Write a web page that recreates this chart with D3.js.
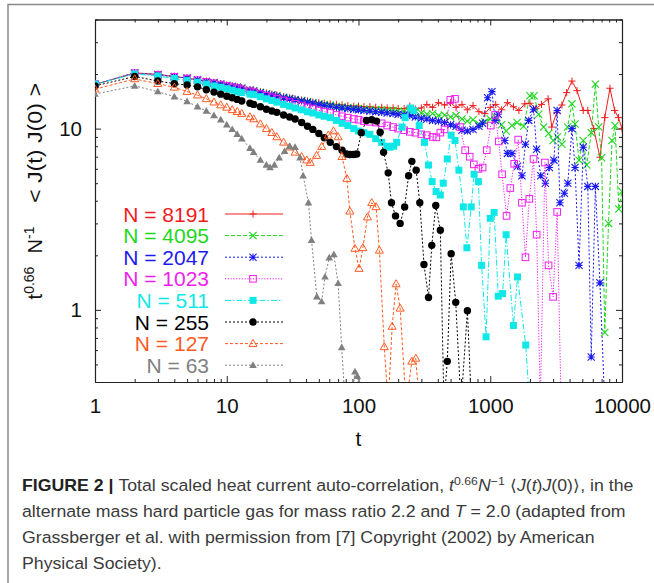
<!DOCTYPE html>
<html><head><meta charset="utf-8">
<script src="https://cdn.jsdelivr.net/npm/d3@7/dist/d3.min.js"></script>
<style>body{margin:0;background:#fff}svg{display:block}</style>
</head><body>
<svg id="c" width="654" height="583"></svg>
<script>
// ---------------- data ----------------
const seriesLabels = ["N = 8191","N = 4095","N = 2047","N = 1023","N = 511","N = 255","N = 127","N = 63"];
const xTickLabels = ["1","10","100","1000","10000"];
const yTickLabels = ["1","10"];

const s8191 = [[1,17.5],[2,20.3],[3,19.9],[4,19.4],[5,19.0],[6,18.6],[7,18.3],[8,18.0],[9,17.7],[10,17.4],[11,17.2],[12,17.0],[13,16.8],[15,16.4],[16,16.3],[18,16.0],[20,15.7],[22,15.5],[24,15.3],[27,15.0],[30,14.8],[33,14.6],[37,14.4],[41,14.2],[45,14.0],[50,13.9],[55,13.8],[61,13.7],[68,13.6],[75,13.5],[83,13.4],[92,13.3],[100,13.3],[110,13.2],[122,13.2],[135,13.1],[150,13.1],[165,13.0],[183,13.0],[200,12.9],[222,12.9],[245,13.3],[270,12.8],[300,13.0],[330,13.6],[365,13.1],[405,13.9],[450,13.5],[500,13.9],[550,13.1],[610,13.6],[670,12.7],[740,13.4],[820,12.4],[910,12.1],[1000,13.1],[1100,13.6],[1220,12.7],[1350,13.9],[1500,13.2],[1650,12.6],[1830,13.7],[2000,13.8],[2220,12.9],[2450,13.6],[2750,14.6],[2930,10.2],[3200,12.3],[3500,13.5],[3800,15.8],[4170,18.3],[4560,16.2],[5080,12.6],[5500,12.6],[6100,10.0],[6800,6.95],[7400,11.5],[8100,16.7],[8800,12.6],[9400,11.5],[10000,10.0]];
const s4095 = [[1,17.5],[2,20.2],[3,19.8],[4,19.3],[5,18.9],[6,18.5],[7,18.2],[8,17.9],[9,17.6],[10,17.3],[11,17.1],[12,16.9],[13,16.7],[15,16.3],[16,16.2],[18,15.9],[20,15.6],[22,15.4],[24,15.2],[27,14.9],[30,14.7],[33,14.5],[37,14.3],[41,14.1],[45,13.9],[50,13.7],[55,13.6],[61,13.5],[68,13.3],[75,13.2],[83,13.1],[92,13.0],[100,12.9],[110,12.8],[122,12.8],[135,12.7],[150,12.7],[165,12.6],[183,12.6],[200,12.5],[222,12.4],[245,12.5],[270,12.3],[300,12.2],[330,12.0],[365,12.1],[405,11.8],[450,11.9],[500,11.6],[550,11.8],[610,11.3],[670,11.0],[740,11.2],[820,10.6],[910,10.9],[1000,11.3],[1100,11.6],[1220,10.5],[1320,9.7],[1460,10.4],[1600,10.8],[1790,10.3],[2000,15.2],[2150,15.2],[2330,12.0],[2540,10.2],[2770,9.4],[3000,8.6],[3230,9.0],[3500,8.2],[3860,10.2],[4170,13.7],[4400,10.6],[4720,6.7],[5080,8.6],[5400,6.3],[5850,9.5],[6280,17.6],[6660,10.2],[7000,6.9],[7400,0.75],[7900,3.0],[8400,8.6],[8860,10.4],[9460,3.6],[10000,4.5]];
const s2047 = [[1,17.6],[2,20.3],[3,19.9],[4,19.4],[5,19.0],[6,18.6],[7,18.2],[8,17.9],[9,17.6],[10,17.3],[11,17.1],[12,16.9],[13,16.7],[15,16.3],[16,16.1],[18,15.8],[20,15.5],[22,15.3],[24,15.1],[27,14.8],[30,14.6],[33,14.4],[37,14.2],[41,14.0],[45,13.8],[50,13.6],[55,13.4],[61,13.3],[68,13.1],[75,13.0],[83,12.9],[92,12.8],[100,12.7],[110,12.6],[122,12.5],[135,12.4],[150,12.3],[165,12.2],[183,12.1],[200,12.0],[222,11.9],[245,11.8],[270,11.6],[300,11.4],[330,11.3],[365,11.1],[405,11.0],[450,10.8],[500,10.5],[550,10.3],[610,9.8],[670,9.7],[740,9.9],[820,10.3],[875,10.7],[955,14.8],[1030,16.0],[1090,11.1],[1150,12.0],[1290,8.6],[1350,7.3],[1460,7.3],[1610,6.2],[1740,5.5],[1850,8.2],[1960,11.1],[2130,12.8],[2250,7.7],[2420,5.5],[2620,5.0],[2810,6.1],[3040,6.7],[3220,12.6],[3380,3.9],[3650,4.4],[3880,5.0],[4170,10.0],[4400,6.1],[4720,1.76],[5080,7.9],[5500,4.8],[5840,0.55],[6280,4.8],[6800,1.41],[7400,0.3]];
const s1023 = [[1,17.6],[2,20.2],[3,19.8],[4,19.3],[5,18.9],[6,18.5],[7,18.1],[8,17.8],[9,17.5],[10,17.2],[11,16.9],[12,16.7],[13,16.5],[15,16.1],[16,15.9],[18,15.5],[20,15.2],[22,14.9],[24,14.6],[27,14.3],[30,14.0],[33,13.7],[37,13.4],[41,13.1],[45,12.9],[50,12.6],[55,12.4],[61,12.2],[68,11.9],[75,11.7],[83,11.5],[92,11.3],[100,11.2],[110,11.0],[122,10.9],[135,10.8],[150,10.7],[165,10.4],[183,10.2],[200,10.0],[222,9.8],[245,9.6],[270,9.5],[300,9.3],[330,9.2],[365,9.0],[390,8.95],[418,9.5],[450,9.9],[497,14.4],[540,14.6],[590,10.2],[645,7.6],[698,7.0],[750,6.35],[813,6.0],[875,6.1],[940,7.6],[1010,10.4],[1090,11.9],[1160,8.5],[1230,5.6],[1330,3.3],[1420,4.7],[1520,6.4],[1630,8.7],[1740,3.9],[1850,1.95],[1980,4.1],[2130,6.8],[2250,2.6],[2400,0.3],[2600,6.5],[2770,1.76],[3000,1.18],[3220,3.47],[3450,0.3]];
const s511 = [[1,17.6],[2,20.0],[3,19.5],[4,18.9],[5,18.4],[6,18.0],[7,17.6],[8,17.2],[9,16.9],[10,16.6],[11,16.3],[12,16.0],[13,15.8],[15,15.5],[16,15.4],[18,15.0],[20,14.6],[22,14.3],[24,14.0],[27,13.6],[30,13.3],[33,13.0],[37,12.7],[41,12.4],[45,12.2],[50,11.9],[55,11.7],[61,11.5],[68,11.1],[75,10.7],[83,10.4],[92,10.0],[100,9.7],[110,9.5],[122,9.3],[135,8.8],[150,8.4],[165,8.0],[173,7.9],[185,8.0],[195,8.4],[214,10.2],[226,11.5],[249,13.0],[262,12.6],[289,10.4],[317,8.4],[340,6.3],[362,5.1],[388,4.5],[418,4.3],[440,5.0],[472,6.8],[505,9.2],[540,8.6],[578,5.9],[625,3.7],[665,2.2],[717,3.7],[754,5.6],[813,5.1],[860,1.76],[930,0.71],[1000,3.2],[1070,3.45],[1150,1.19],[1240,1.23],[1320,2.6],[1500,0.82],[1610,1.52],[1860,0.64],[1990,0.3]];
const s255 = [[1,17.2],[2,19.4],[3,18.3],[4,17.7],[5,17.4],[6,17.0],[7,16.4],[8,15.9],[9,15.5],[10,15.1],[11,14.8],[12,14.5],[13,14.2],[15,13.8],[16,13.6],[18,13.2],[20,12.8],[22,12.5],[24,12.3],[27,11.9],[30,11.6],[33,11.3],[37,10.8],[41,10.3],[45,9.9],[50,9.4],[55,8.9],[61,8.4],[68,7.96],[75,7.6],[81,7.25],[86,7.2],[92,7.2],[97,7.25],[105,9.5],[115,11.1],[126,11.2],[137,11.0],[146,9.55],[155,7.4],[168,5.7],[178,3.9],[191,3.3],[207,3.0],[224,3.7],[240,5.5],[254,6.6],[274,5.9],[292,3.9],[314,1.78],[340,1.17],[360,2.27],[386,3.77],[418,2.75],[445,0.3],[472,0.52],[505,2.04],[547,1.1],[600,0.3],[671,0.99],[720,0.3]];
const s127 = [[1,16.5],[2,18.8],[3,17.7],[4,16.9],[5,16.0],[6,15.3],[7,14.6],[8,14.0],[9,13.5],[10,13.1],[11,12.7],[12,12.4],[13,12.1],[15,11.6],[16,11.3],[18,10.6],[20,10.0],[22,9.5],[24,9.0],[27,8.4],[30,7.9],[33,7.4],[37,7.0],[40.5,6.7],[43,6.5],[48,7.1],[52.6,7.96],[59,9.2],[64.5,9.7],[70,9.0],[75,7.0],[81.6,5.3],[86,3.5],[94,2.18],[101,1.69],[108,2.2],[117,3.25],[126,3.9],[136,3.7],[144,2.13],[157,0.625],[168,0.3],[180,0.81],[193,1.39],[207,1.02],[230,0.3],[254,0.52],[272,0.54],[290,0.3]];
const s63 = [[1,15.5],[2,17.2],[3,16.0],[4,15.0],[5,14.1],[6,13.2],[7,12.5],[8,11.8],[9,11.2],[10,10.5],[11,9.9],[12,9.3],[13,8.8],[15,7.8],[16,7.4],[18,6.7],[20,6.3],[21.3,6.1],[23,6.3],[25,6.9],[27.5,7.5],[30,7.96],[33,7.9],[36,6.9],[38,5.5],[41.7,3.9],[44,2.42],[48.3,1.18],[52.5,1.11],[55.7,1.52],[60,1.94],[65,2.02],[70,1.4],[74.6,0.62],[82,0.2],[94,0.455],[98,0.43],[105,0.2]];

const seriesData = [s8191,s4095,s2047,s1023,s511,s255,s127,s63];
const seriesColors = ["#f01c1c","#1ed81e","#1a1af0","#ee1eee","#10e8e8","#000000","#ff5a22","#808080"];
const seriesDash = [null,"4,2","2,2","1.2,1.6","6,2,1.5,2","2,2","3,2","2,2"];
const seriesMarker = ["plus","cross","star","square","fsquare","fcircle","triangle","ftriangle"];

// ---------------- layout ----------------
const svg = d3.select("#c");
const font = "'Liberation Sans', Arial, Helvetica, sans-serif";
const L = 95, R = 622, T = 19.5, B = 382;
const yMinVal = 0.4;
const x = d3.scaleLog().domain([1, 10000]).range([L, R]);
const y = d3.scaleLog().domain([yMinVal, 40]).range([B, T]);

// outer frame
svg.append("path").attr("d", `M8,583V4.5H654`).attr("fill","none").attr("stroke","#8a8a8a").attr("stroke-width",1.5);

svg.append("defs").append("clipPath").attr("id","clip")
  .append("rect").attr("x",L).attr("y",T).attr("width",R-L).attr("height",B-T);

// ticks
const xMaj = [1,10,100,1000,10000];
const xMin = [];
[1,10,100,1000].forEach(d=>{for(let k=2;k<=9;k++) xMin.push(d*k);});
const yMaj = [1,10];
const yMin = [0.5,0.6,0.7,0.8,0.9,2,3,4,5,6,7,8,9,20,30,40];

function styleAxis(g){
  g.selectAll("path.domain").attr("stroke","#222").attr("stroke-width",1.1);
  g.selectAll(".tick line").attr("stroke","#222").attr("stroke-width",1);
  g.selectAll("text").attr("font-family",font).attr("font-size",20.5).attr("fill","#111");
}
// bottom
svg.append("g").attr("transform",`translate(0,${B})`)
  .call(d3.axisBottom(x).tickValues(xMin).tickFormat("").tickSizeInner(-3).tickSizeOuter(0)).call(styleAxis);
svg.append("g").attr("transform",`translate(0,${B})`)
  .call(d3.axisBottom(x).tickValues(xMaj).tickFormat((d,i)=>xTickLabels[i]).tickSizeInner(-6).tickSizeOuter(0).tickPadding(16)).call(styleAxis);
// top
svg.append("g").attr("transform",`translate(0,${T})`)
  .call(d3.axisTop(x).tickValues(xMin).tickFormat("").tickSizeInner(-3).tickSizeOuter(0)).call(styleAxis);
svg.append("g").attr("transform",`translate(0,${T})`)
  .call(d3.axisTop(x).tickValues(xMaj).tickFormat("").tickSizeInner(-6).tickSizeOuter(0)).call(styleAxis);
// left
svg.append("g").attr("transform",`translate(${L},0)`)
  .call(d3.axisLeft(y).tickValues(yMin).tickFormat("").tickSizeInner(-3).tickSizeOuter(0)).call(styleAxis);
svg.append("g").attr("transform",`translate(${L},0)`)
  .call(d3.axisLeft(y).tickValues(yMaj).tickFormat((d,i)=>yTickLabels[i]).tickSizeInner(-6).tickSizeOuter(0).tickPadding(13)).call(styleAxis);
// right
svg.append("g").attr("transform",`translate(${R},0)`)
  .call(d3.axisRight(y).tickValues(yMin).tickFormat("").tickSizeInner(-3).tickSizeOuter(0)).call(styleAxis);
svg.append("g").attr("transform",`translate(${R},0)`)
  .call(d3.axisRight(y).tickValues(yMaj).tickFormat("").tickSizeInner(-6).tickSizeOuter(0)).call(styleAxis);

// axis titles
svg.append("text").attr("x",(L+R)/2).attr("y",446).attr("text-anchor","middle")
  .attr("font-family",font).attr("font-size",21).attr("fill","#111").text("t");

function rotText(cx, cy, parts, len){
  const t = svg.append("text").attr("transform",`translate(${cx},${cy}) rotate(-90)`)
    .attr("text-anchor","middle").attr("font-family",font).attr("font-size",20).attr("fill","#111");
  parts.forEach(p=>{
    const ts = t.append("tspan").text(p.s);
    if(p.sup){ ts.attr("font-size",14).attr("dy",-8); }
  });
  if(len) t.attr("textLength",len).attr("lengthAdjust","spacingAndGlyphs");
}
rotText(42, 283, [{s:"t"},{s:"0.66",sup:true}]);
rotText(42, 240, [{s:"N"},{s:"-1",sup:true}]);
rotText(42, 143, [{s:"< J(t) J(0) >"}], 120);

// ---------------- series ----------------
const plot = svg.append("g").attr("clip-path","url(#clip)");
const line = d3.line().x(d=>x(d[0])).y(d=>y(d[1]));

function marker(g, type, cx, cy, color){
  const r = 3.6;
  if(type==="plus"){
    g.append("path").attr("d",`M${cx-r},${cy}H${cx+r}M${cx},${cy-r}V${cy+r}`).attr("stroke",color).attr("stroke-width",1).attr("fill","none");
  } else if(type==="cross"){
    g.append("path").attr("d",`M${cx-r},${cy-r}L${cx+r},${cy+r}M${cx-r},${cy+r}L${cx+r},${cy-r}`).attr("stroke",color).attr("stroke-width",1.1).attr("fill","none");
  } else if(type==="star"){
    g.append("path").attr("d",`M${cx-r},${cy-r}L${cx+r},${cy+r}M${cx-r},${cy+r}L${cx+r},${cy-r}M${cx-r},${cy}H${cx+r}M${cx},${cy-r}V${cy+r}`).attr("stroke",color).attr("stroke-width",1.1).attr("fill","none");
  } else if(type==="square"){
    g.append("rect").attr("x",cx-3.3).attr("y",cy-3.3).attr("width",6.6).attr("height",6.6).attr("fill","none").attr("stroke",color).attr("stroke-width",1);
  } else if(type==="fsquare"){
    g.append("rect").attr("x",cx-3.5).attr("y",cy-3.5).attr("width",7).attr("height",7).attr("fill",color);
  } else if(type==="fcircle"){
    g.append("circle").attr("cx",cx).attr("cy",cy).attr("r",3.7).attr("fill",color);
  } else if(type==="triangle"){
    g.append("path").attr("d",`M${cx},${cy-4.2}L${cx+4},${cy+2.8}L${cx-4},${cy+2.8}Z`).attr("fill","none").attr("stroke",color).attr("stroke-width",1);
  } else if(type==="ftriangle"){
    g.append("path").attr("d",`M${cx},${cy-4}L${cx+3.8},${cy+2.7}L${cx-3.8},${cy+2.7}Z`).attr("fill",color);
  }
}

seriesData.forEach((data,i)=>{
  const g = plot.append("g");
  const p = g.append("path").datum(data).attr("d",line).attr("fill","none")
    .attr("stroke",seriesColors[i]).attr("stroke-width",1);
  if(seriesDash[i]) p.attr("stroke-dasharray",seriesDash[i]);
  data.forEach(d=>{
    if(d[1] >= yMinVal) marker(g, seriesMarker[i], x(d[0]), y(d[1]), seriesColors[i]);
  });
});

// ---------------- legend ----------------
const legY0 = 214, legDy = 21.6;
seriesLabels.forEach((lab,i)=>{
  const yy = legY0 + i*legDy;
  svg.append("text").attr("x",209).attr("y",yy+7.5).attr("text-anchor","end")
    .attr("font-family",font).attr("font-size",21).attr("fill",seriesColors[i]).text(lab);
  const p = svg.append("line").attr("x1",225).attr("x2",283).attr("y1",yy).attr("y2",yy)
    .attr("stroke",seriesColors[i]).attr("stroke-width",1);
  if(seriesDash[i]) p.attr("stroke-dasharray",seriesDash[i]);
  marker(svg, seriesMarker[i], 253, yy, seriesColors[i]);
});

// ---------------- caption ----------------
const cfont = "'Liberation Sans', Arial, sans-serif";
const capLines = [
  [{s:"FIGURE 2 | ",b:true},{s:"Total scaled heat current auto-correlation, "},{s:"t",i:true},{s:"0.66",sup:true},{s:"N",i:true,down:true},{s:"−1",sup:true},{s:" ⟨",down:true},{s:"J",i:true},{s:"("},{s:"t",i:true},{s:")"},{s:"J",i:true},{s:"(0)⟩, in the"}],
  [{s:"alternate mass hard particle gas for mass ratio 2.2 and "},{s:"T",i:true},{s:" = 2.0 (adapted from"}],
  [{s:"Grassberger et al. with permission from [7] Copyright (2002) by American"}],
  [{s:"Physical Society)."}]
];
const capY = [491, 517, 543, 569];
const capTexts = capLines.map((parts,li)=>{
  const t = svg.append("text").attr("x",0).attr("y",0).attr("font-family",cfont)
    .attr("font-size",16.5).attr("fill","#3a3a3a");
  parts.forEach(p=>{
    const ts = t.append("tspan").text(p.s);
    if(p.b) ts.attr("font-weight","bold").attr("fill","#222");
    if(p.i) ts.attr("font-style","italic");
    if(p.sup) ts.attr("font-size",11.5).attr("dy",-6);
    if(p.down) ts.attr("dy",6);
  });
  return t;
});
const w1 = capTexts[0].node().getComputedTextLength();
const sx = 612 / w1;
capTexts.forEach((t,li)=> t.attr("transform",`translate(22,${capY[li]}) scale(${sx},1)`));
</script>
</body></html>
